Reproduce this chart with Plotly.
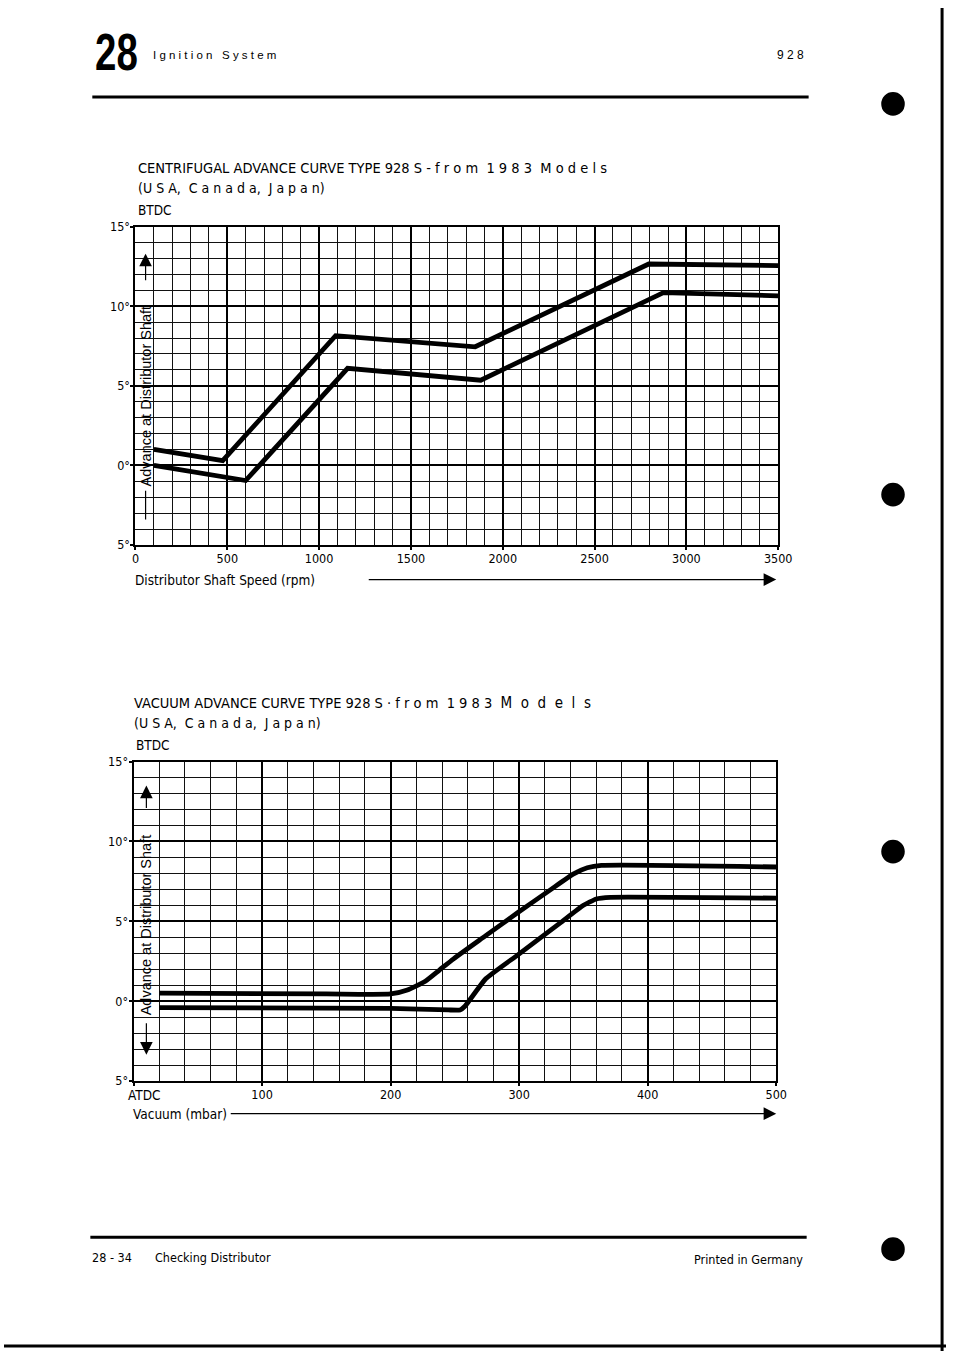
import plotly.graph_objects as go

W, H = 960, 1358

# ---------------- data ----------------
# Centrifugal advance curve: distributor shaft speed (rpm) vs advance (deg)
cf_upper_rpm = [100, 475, 1090, 1850, 2795, 3500]
cf_upper_deg = [1.0, 0.3, 8.15, 7.45, 12.65, 12.55]
cf_lower_rpm = [100, 600, 1155, 1880, 2875, 3500]
cf_lower_deg = [0.0, -0.95, 6.1, 5.35, 10.85, 10.65]

# Vacuum advance curve: vacuum (mbar) vs advance (deg)
vac_upper_mbar = [20, 150, 200, 213, 227, 238, 249, 274, 299, 324, 342, 353, 364, 500]
vac_upper_deg = [0.5, 0.45, 0.45, 0.7, 1.25, 1.95, 2.65, 4.1, 5.55, 6.95, 7.95, 8.35, 8.5, 8.4]
vac_lower_mbar = [20, 200, 245, 254, 258, 274, 299, 332, 350, 360, 371, 500]
vac_lower_deg = [-0.4, -0.45, -0.55, -0.55, -0.3, 1.4, 2.9, 4.9, 6.0, 6.4, 6.5, 6.45]

# tick labels
deg_ticks = [-5, 0, 5, 10, 15]
deg_labels = ["5°", "0°", "5°", "10°", "15°"]
rpm_ticks = [0, 500, 1000, 1500, 2000, 2500, 3000, 3500]
rpm_labels = ["0", "500", "1000", "1500", "2000", "2500", "3000", "3500"]
mbar_ticks = [0, 100, 200, 300, 400, 500]
mbar_labels = ["", "100", "200", "300", "400", "500"]

FN = "Liberation Sans Narrow, Arial Narrow, DejaVu Sans Condensed, Liberation Sans, Arial, sans-serif"
FS = "Liberation Sans, Arial, Helvetica, sans-serif"


def px(x):
    return x / W


def py(y):
    return 1 - y / H


fig = go.Figure()

CW = 4.8
fig.add_trace(go.Scatter(x=cf_upper_rpm, y=cf_upper_deg, mode="lines",
                         line=dict(color="black", width=CW),
                         xaxis="x", yaxis="y", showlegend=False, hoverinfo="skip"))
fig.add_trace(go.Scatter(x=cf_lower_rpm, y=cf_lower_deg, mode="lines",
                         line=dict(color="black", width=CW),
                         xaxis="x", yaxis="y", showlegend=False, hoverinfo="skip"))
fig.add_trace(go.Scatter(x=vac_upper_mbar, y=vac_upper_deg, mode="lines",
                         line=dict(color="black", width=CW, shape="spline", smoothing=0.5),
                         xaxis="x2", yaxis="y2", showlegend=False, hoverinfo="skip"))
fig.add_trace(go.Scatter(x=vac_lower_mbar, y=vac_lower_deg, mode="lines",
                         line=dict(color="black", width=CW, shape="spline", smoothing=0.4),
                         xaxis="x2", yaxis="y2", showlegend=False, hoverinfo="skip"))


def base_axis(**kw):
    d = dict(showline=True, linewidth=2, linecolor="black", mirror=True,
             showgrid=True, gridcolor="black", gridwidth=1.6, zeroline=False,
             ticks="outside", ticklen=3, tickwidth=1.5, tickcolor="black",
             tickfont=dict(family=FN, size=12.5, color="black"), fixedrange=True)
    d.update(kw)
    return d


minor_x1 = dict(tickmode="linear", tick0=0, dtick=100, showgrid=True,
                gridcolor="#111", gridwidth=0.9, ticks="")
minor_x2 = dict(tickmode="linear", tick0=0, dtick=20, showgrid=True,
                gridcolor="#111", gridwidth=0.9, ticks="")
minor_y = dict(tickmode="linear", tick0=0, dtick=1, showgrid=True,
               gridcolor="#111", gridwidth=0.9, ticks="")

fig.update_layout(
    width=W, height=H, margin=dict(l=0, r=0, t=0, b=0),
    paper_bgcolor="white", plot_bgcolor="white", showlegend=False,
    xaxis=base_axis(domain=[px(134), px(789)], range=[0, 3500], anchor="y",
                    tickmode="array", tickvals=rpm_ticks, ticktext=rpm_labels,
                    ticklabelstandoff=-2, minor=minor_x1),
    yaxis=base_axis(domain=[py(543), py(221)], range=[-5, 15], anchor="x",
                    tickmode="array", tickvals=deg_ticks, ticktext=deg_labels,
                    ticklabelstandoff=-2, minor=minor_y),
    xaxis2=base_axis(domain=[px(132), px(787)], range=[0, 500], anchor="y2",
                     tickmode="array", tickvals=mbar_ticks, ticktext=mbar_labels,
                     ticklabelstandoff=-2, minor=minor_x2),
    yaxis2=base_axis(domain=[py(1085), py(762)], range=[-5, 15], anchor="x2",
                     tickmode="array", tickvals=deg_ticks, ticktext=deg_labels,
                     ticklabelstandoff=-2, minor=minor_y),
)

ann = []


def text(s, x, y, size=12, anchor="left", family=FN, bold=False):
    if bold:
        s = "<b>" + s + "</b>"
    ann.append(dict(text=s, x=px(x), y=py(y), xref="paper", yref="paper",
                    xanchor=anchor, yanchor="middle", showarrow=False,
                    font=dict(family=family, size=size, color="black")))


SP = "&nbsp;"
MODELS = '<span style="font-size:15px">M' + SP + ' o' + SP + ' d' + SP + ' e' + SP + ' l' + SP + ' s</span>'

# header
text("28", 91, 44, size=52, family=FS, bold=True)
text("I g n i t i o n " + SP + " S y s t e m", 150, 48, size=11.5, family=FS)
text("9 2 8", 817, 48, size=12, anchor="right", family=FS)

# chart 1 texts
text("CENTRIFUGAL ADVANCE CURVE TYPE 928 S - f r o m " + SP + "1 9 8 3 " + SP + "M o d e l s",
     135, 162, size=14.5)
text("(U S A, " + SP + "C a n a d a, " + SP + "J a p a n)", 135, 182, size=14)
text("BTDC", 135, 204, size=13.5)
text("Distributor Shaft Speed (rpm)", 131, 578, size=13.5)

# chart 2 texts
text("VACUUM ADVANCE CURVE TYPE 928 S · f r o m " + SP + "1 9 8 3 " + SP + MODELS,
     130, 703, size=14.5)
text("(U S A, " + SP + "C a n a d a, " + SP + "J a p a n)", 130, 723, size=14)
text("BTDC", 132, 745, size=13.5)
text("Vacuum (mbar)", 129, 1118, size=13.5)
text("ATDC", 124, 1099, size=13.5)

# footer
text("28 - 34", 88, 1263, size=12.5)
text("Checking Distributor", 152, 1263, size=12.5)
text("Printed in Germany", 816, 1265, size=12.5, anchor="right")

# x-axis arrows
for tip_x, tail_x, yy in [(787, 378, 578), (787, 240, 1118)]:
    ann.append(dict(text="", x=px(tip_x), y=py(yy), xref="paper", yref="paper",
                    showarrow=True, ax=tail_x - tip_x, ay=0, arrowhead=2,
                    arrowsize=2.1, arrowwidth=1.2, arrowcolor="black", standoff=0))

# rotated y labels inside plots
ann.append(dict(text="Advance at Distributor Shaft", x=55, y=4.37, xref="x", yref="y",
                textangle=-90, showarrow=False, xanchor="center", yanchor="middle",
                font=dict(family=FS, size=14.5, color="black")))
ann.append(dict(text="", x=55, y=13.3, xref="x", yref="y", showarrow=True, ax=0, ay=28,
                arrowhead=2, arrowsize=2.1, arrowwidth=1.2, arrowcolor="black", standoff=0))
ann.append(dict(text="Advance at Distributor Shaft", x=10, y=4.77, xref="x2", yref="y2",
                textangle=-90, showarrow=False, xanchor="center", yanchor="middle",
                font=dict(family=FS, size=14.5, color="black")))
ann.append(dict(text="", x=10, y=13.5, xref="x2", yref="y2", showarrow=True, ax=0, ay=24,
                arrowhead=2, arrowsize=2.1, arrowwidth=1.2, arrowcolor="black", standoff=0))
ann.append(dict(text="", x=10, y=-3.35, xref="x2", yref="y2", showarrow=True, ax=0, ay=-33,
                arrowhead=2, arrowsize=2.1, arrowwidth=1.2, arrowcolor="black", standoff=0))

fig.update_layout(annotations=ann)

shapes = []
# line below rotated label (chart 1)
shapes.append(dict(type="line", xref="x", yref="y", x0=55, x1=55, y0=-1.6, y1=-3.4,
                   line=dict(color="black", width=1.2)))
# header / footer rules
shapes.append(dict(type="line", xref="paper", yref="paper", x0=px(90), x1=px(820),
                   y0=py(90), y1=py(90), line=dict(color="black", width=3)))
shapes.append(dict(type="line", xref="paper", yref="paper", x0=px(88), x1=px(818),
                   y0=py(1243), y1=py(1243), line=dict(color="black", width=3)))
# punch-hole dots
for cy in [97, 492, 853, 1255]:
    shapes.append(dict(type="circle", xref="paper", yref="paper",
                       x0=px(894), x1=px(918), y0=py(cy + 12), y1=py(cy - 12),
                       fillcolor="black", line=dict(color="black", width=0)))
# scan edges
shapes.append(dict(type="line", xref="paper", yref="paper", x0=px(956), x1=px(956),
                   y0=0, y1=1, line=dict(color="black", width=3)))
shapes.append(dict(type="line", xref="paper", yref="paper", x0=0, x1=1,
                   y0=py(1353), y1=py(1353), line=dict(color="black", width=3)))
fig.update_layout(shapes=shapes)

POST = (
    "document.body.style.margin='0px';document.body.style.overflow='hidden';"
    "document.querySelectorAll('text.annotation-text').forEach(function(t){"
    "if(t.textContent==='28'){t.style.transformBox='fill-box';"
    "t.style.transformOrigin='0% 50%';t.style.transform='scaleX(0.74)';}});"
)

fig.write_html("out.html", config={"displayModeBar": False}, post_script=POST)
